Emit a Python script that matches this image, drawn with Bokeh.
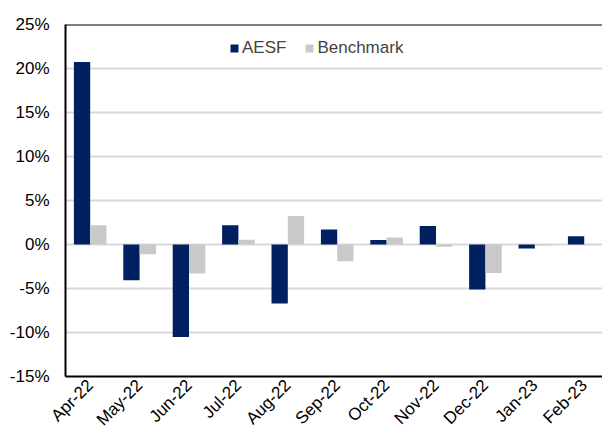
import math
from bokeh.plotting import figure
from bokeh.models import Range1d, FixedTicker, Span, Legend, LegendItem
from bokeh.embed import file_html
from bokeh.resources import INLINE

months = ["Apr-22", "May-22", "Jun-22", "Jul-22", "Aug-22", "Sep-22",
          "Oct-22", "Nov-22", "Dec-22", "Jan-23", "Feb-23"]
aesf = [20.75, -4.05, -10.5, 2.2, -6.7, 1.7, 0.5, 2.1, -5.1, -0.45, 0.95]
benchmark = [2.2, -1.1, -3.3, 0.55, 3.25, -1.9, 0.8, -0.25, -3.25, -0.1, 0.05]
y_ticks = [-15, -10, -5, 0, 5, 10, 15, 20, 25]

FONT = "Liberation Sans"
idx = list(range(len(months)))

p = figure(width=602, height=439, output_backend="svg", toolbar_location=None,
           x_range=Range1d(-0.5, 10.37), y_range=Range1d(-15, 25),
           min_border_left=65, min_border_right=0, min_border_top=24,
           min_border_bottom=63)
p.outline_line_color = None
p.background_fill_color = "white"

bw = 0.33
r1 = p.vbar(x=[i - bw / 2 for i in idx], top=aesf, bottom=0, width=bw,
            fill_color="#002060", line_color=None)
r2 = p.vbar(x=[i + bw / 2 for i in idx], top=benchmark, bottom=0, width=bw,
            fill_color="#C9C9C9", line_color=None)

p.xgrid.visible = False
p.ygrid.ticker = FixedTicker(ticks=y_ticks)
p.ygrid.grid_line_color = "#D9D9D9"
p.ygrid.grid_line_width = 2

p.yaxis.ticker = FixedTicker(ticks=y_ticks)
p.yaxis.major_label_overrides = {t: f"{t}%" for t in y_ticks}
p.yaxis.major_tick_line_color = None
p.yaxis.minor_tick_line_color = None
p.yaxis.major_tick_out = 0
p.yaxis.major_tick_in = 0
p.yaxis.major_label_standoff = 16
p.yaxis.axis_line_color = "black"
p.yaxis.axis_line_width = 2

p.xaxis.ticker = FixedTicker(ticks=idx)
p.xaxis.major_label_overrides = {i: m for i, m in enumerate(months)}
p.xaxis.major_tick_line_color = None
p.xaxis.minor_tick_line_color = None
p.xaxis.major_tick_out = 0
p.xaxis.major_tick_in = 0
p.xaxis.major_label_orientation = math.pi / 4
p.xaxis.major_label_standoff = 6
p.xaxis.axis_line_color = "black"
p.xaxis.axis_line_width = 2

for ax in (p.xaxis, p.yaxis):
    ax.major_label_text_font = FONT
    ax.major_label_text_font_size = "17px"
    ax.major_label_text_color = "black"

p.add_layout(Span(location=25, dimension="width", line_color="black", line_width=2))

legend = Legend(items=[LegendItem(label="AESF", renderers=[r1]),
                       LegendItem(label="Benchmark", renderers=[r2])],
                orientation="horizontal", location=(164, 318),
                border_line_color=None, background_fill_alpha=0,
                glyph_width=10, glyph_height=10, label_standoff=3,
                spacing=18, padding=0, margin=0,
                label_text_font=FONT, label_text_font_size="17px",
                label_height=16)
p.add_layout(legend)

open("out.html", "w").write(file_html(p, INLINE))
